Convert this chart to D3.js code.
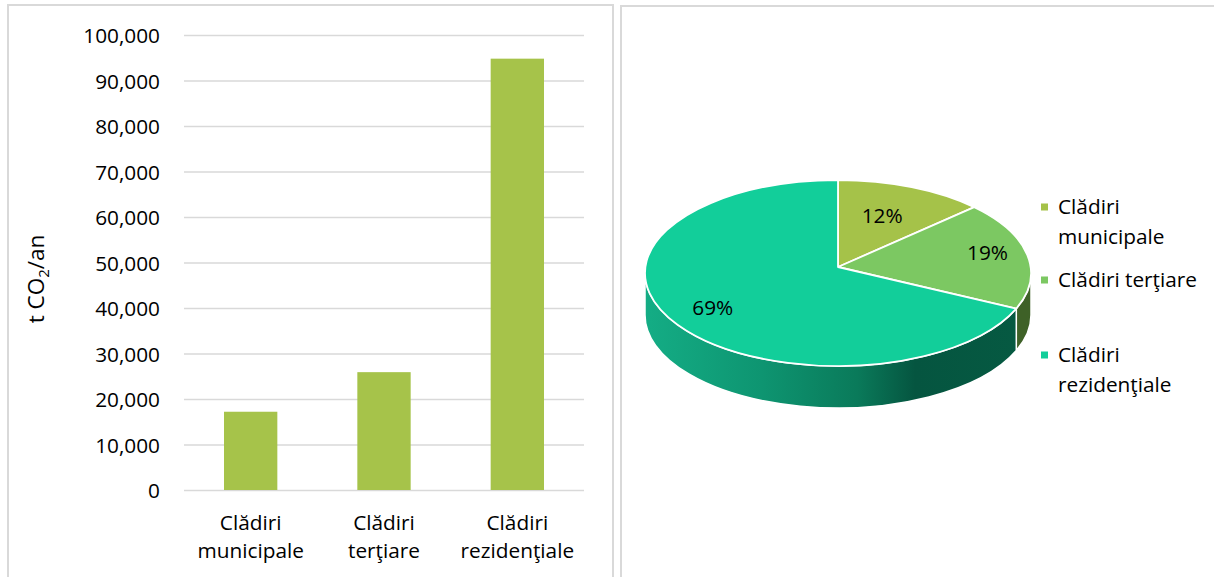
<!DOCTYPE html>
<html>
<head>
<meta charset="utf-8">
<script src="https://cdn.jsdelivr.net/npm/d3@7"></script>
<style>
  body { margin: 0; background: #fff; }
  svg { display: block; }
  text { font-family: "Open Sans", Lato, sans-serif; fill: #000; }
</style>
</head>
<body>
<svg id="chart" width="1214" height="577"></svg>
<script>
// Building-sector CO2 emissions (t CO2 / year)
const categories = ["Clădiri municipale", "Clădiri terţiare", "Clădiri rezidenţiale"];
const categoryLines = [["Clădiri", "municipale"], ["Clădiri", "terţiare"], ["Clădiri", "rezidenţiale"]];
const legendLines = [["Clădiri", "municipale"], ["Clădiri terţiare"], ["Clădiri", "rezidenţiale"]];
const emissions = [17200, 25900, 94800];
const yTicks = [0, 10000, 20000, 30000, 40000, 50000, 60000, 70000, 80000, 90000, 100000];

const barColor = "#a6c34a";
const sliceColors = ["#a5c249", "#7cc862", "#12ce9a"];
const sideColors = ["#6c8530", "#3e6127", null];
const fontSize = "20.8px";

const svg = d3.select("#chart");

// Panel frames
svg.append("rect").attr("x", 8).attr("y", 5).attr("width", 605).attr("height", 600)
  .attr("fill", "none").attr("stroke", "#d9d9d9").attr("stroke-width", 2);
svg.append("rect").attr("x", 621).attr("y", 6).attr("width", 620).attr("height", 600)
  .attr("fill", "none").attr("stroke", "#d9d9d9").attr("stroke-width", 2);

// ---------- Bar chart ----------
const plot = { left: 184, right: 584, top: 35, bottom: 490 };
const x = d3.scaleBand().domain(categories).range([plot.left, plot.right]).paddingInner(0.6).paddingOuter(0.3);
const y = d3.scaleLinear().domain([0, 100000]).range([plot.bottom, plot.top]);

const yAxis = svg.append("g").attr("transform", `translate(${plot.left},0)`)
  .call(d3.axisLeft(y).tickValues(yTicks).tickSize(-(plot.right - plot.left)).tickFormat(d3.format(",")));
yAxis.select(".domain").remove();
yAxis.selectAll(".tick line").attr("stroke", "#d9d9d9").attr("stroke-width", 1.4);
yAxis.selectAll(".tick text").attr("x", -24).attr("dy", "0.36em")
  .style("font-size", fontSize).attr("fill", "#000");

svg.append("g").selectAll("rect").data(emissions).join("rect")
  .attr("x", (d, i) => x(categories[i]))
  .attr("width", x.bandwidth())
  .attr("y", d => y(d))
  .attr("height", d => y(0) - y(d))
  .attr("fill", barColor);

const xl = svg.append("g").selectAll("text").data(categoryLines).join("text")
  .attr("text-anchor", "middle")
  .attr("x", (d, i) => x(categories[i]) + x.bandwidth() / 2)
  .attr("y", 530)
  .style("font-size", fontSize);
xl.selectAll("tspan").data(d => d).join("tspan")
  .attr("x", function () { return d3.select(this.parentNode).attr("x"); })
  .attr("dy", (d, i) => i === 0 ? 0 : 28)
  .text(d => d);

// Axis title with subscript
const yt = svg.append("text").attr("transform", "translate(44,279) rotate(-90)")
  .attr("text-anchor", "middle").style("font-size", "22.5px");
yt.append("tspan").text("t CO");
yt.append("tspan").text("2").style("font-size", "15px").attr("dy", 5);
yt.append("tspan").text("/an").attr("dy", -5);

// ---------- 3D pie ----------
const pc = { cx: 838, cy: 273, rx: 193, ry: 93, depth: 42, apexLift: 6 };
const pie = d3.pie().sort(null).startAngle(0).endAngle(2 * Math.PI)(emissions);
const pt = (a, dz = 0) => [pc.cx + pc.rx * Math.sin(a), pc.cy - pc.ry * Math.cos(a) + dz];
const apex = [pc.cx, pc.cy - pc.apexLift];

const defs = svg.append("defs");
const grad = defs.append("linearGradient").attr("id", "sideGrad")
  .attr("gradientUnits", "userSpaceOnUse")
  .attr("x1", pc.cx - pc.rx).attr("x2", pc.cx + pc.rx).attr("y1", 0).attr("y2", 0);
[[0, "#14ad85"], [0.3, "#0e9571"], [0.55, "#0a7a5a"], [0.7, "#055540"], [1, "#065a42"]]
  .forEach(([o, c]) => grad.append("stop").attr("offset", o).attr("stop-color", c));

const pieG = svg.append("g");

// Side walls: only the front half (angles between PI/2 and 3PI/2) is visible
pie.forEach((s, i) => {
  const a0 = Math.max(s.startAngle, Math.PI / 2);
  const a1 = Math.min(s.endAngle, 3 * Math.PI / 2);
  if (a1 <= a0) return;
  const p0 = pt(a0), p1 = pt(a1), q0 = pt(a0, pc.depth), q1 = pt(a1, pc.depth);
  const path = `M${p0}A${pc.rx},${pc.ry} 0 0 1 ${p1}L${q1}A${pc.rx},${pc.ry} 0 0 0 ${q0}Z`;
  pieG.append("path").attr("d", path)
    .attr("fill", sideColors[i] || "url(#sideGrad)")
    .attr("stroke", "#fff").attr("stroke-width", 1.5).attr("stroke-linejoin", "round");
});

// Top faces
pie.forEach((s, i) => {
  const p0 = pt(s.startAngle), p1 = pt(s.endAngle);
  const large = (s.endAngle - s.startAngle) > Math.PI ? 1 : 0;
  const path = `M${apex}L${p0}A${pc.rx},${pc.ry} 0 ${large} 1 ${p1}Z`;
  pieG.append("path").attr("d", path).attr("fill", sliceColors[i])
    .attr("stroke", "#fff").attr("stroke-width", 1.8).attr("stroke-linejoin", "round");
});

// Percentage labels
const total = d3.sum(emissions);
const labelRadius = [0.6, 0.79, 0.78];
pie.forEach((s, i) => {
  const m = (s.startAngle + s.endAngle) / 2;
  const r = labelRadius[i];
  svg.append("text")
    .attr("x", apex[0] + pc.rx * r * Math.sin(m))
    .attr("y", apex[1] - pc.ry * r * Math.cos(m))
    .attr("dy", "0.36em")
    .attr("text-anchor", "middle")
    .style("font-size", fontSize)
    .text(d3.format(".0%")(emissions[i] / total));
});

// Legend
const legendY = [207, 280, 355];
const leg = svg.append("g").selectAll("g").data(legendLines).join("g")
  .attr("transform", (d, i) => `translate(1041,${legendY[i]})`);
leg.append("rect").attr("x", 0).attr("y", -3.5).attr("width", 7).attr("height", 7)
  .attr("fill", (d, i) => sliceColors[i]);
const lt = leg.append("text").attr("x", 17).attr("y", 7).style("font-size", fontSize);
lt.selectAll("tspan").data(d => d).join("tspan")
  .attr("x", 17).attr("dy", (d, i) => i === 0 ? 0 : 30).text(d => d);
</script>
</body>
</html>
